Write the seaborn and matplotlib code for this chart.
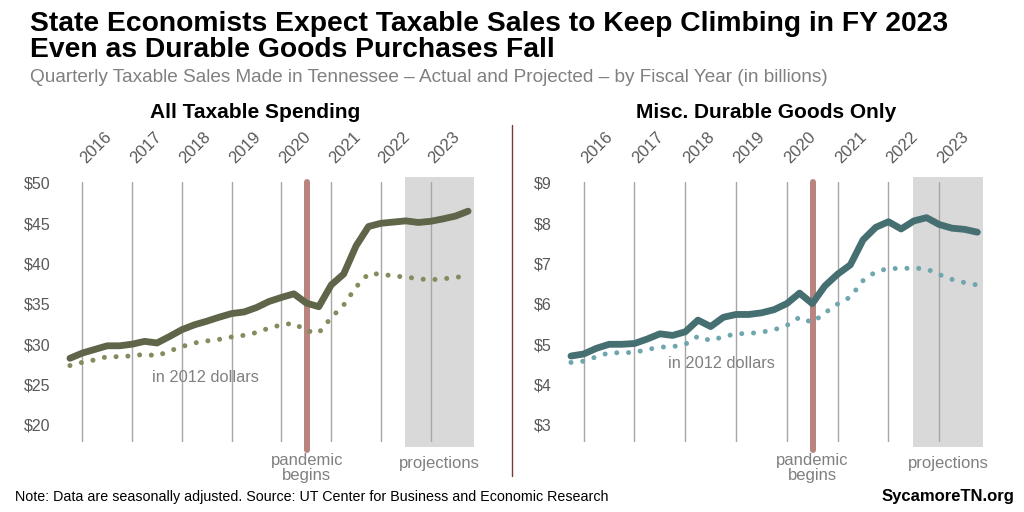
import numpy as np
import pandas as pd
import seaborn as sns
import matplotlib.pyplot as plt
from matplotlib.transforms import offset_copy

# quarterly values, Q4 FY2015 .. Q4 FY2023 (billions)
all_nominal = [28.25, 28.9, 29.35, 29.8, 29.8, 30.0, 30.35, 30.15, 30.95, 31.8, 32.4,
               32.85, 33.35, 33.8, 34.0, 34.55, 35.3, 35.8, 36.25, 35.1, 34.65, 37.35,
               38.7, 42.2, 44.6, 45.0, 45.15, 45.3, 45.1, 45.25, 45.55, 45.9, 46.5]
all_real = [27.35, 27.75, 28.05, 28.45, 28.45, 28.55, 28.75, 28.55, 29.15, 29.7, 30.15,
            30.4, 30.6, 30.9, 31.1, 31.45, 32.0, 32.4, 32.6, 31.65, 31.4, 33.3,
            34.85, 37.1, 38.75, 38.7, 38.45, 38.35, 38.1, 38.0, 38.1, 38.3, 38.45]
dur_nominal = [4.71, 4.76, 4.9, 5.0, 5.0, 5.02, 5.13, 5.26, 5.22, 5.31, 5.6,
               5.44, 5.67, 5.74, 5.74, 5.78, 5.86, 6.01, 6.27, 6.01, 6.45, 6.74,
               6.97, 7.59, 7.9, 8.04, 7.86, 8.06, 8.14, 7.97, 7.88, 7.85, 7.78]
dur_real = [4.55, 4.58, 4.69, 4.79, 4.79, 4.8, 4.87, 4.93, 4.94, 5.0, 5.2,
            5.09, 5.19, 5.26, 5.27, 5.3, 5.36, 5.47, 5.67, 5.54, 5.78, 6.0,
            6.17, 6.58, 6.8, 6.88, 6.88, 6.89, 6.87, 6.73, 6.61, 6.53, 6.47]
years = ["2016", "2017", "2018", "2019", "2020", "2021", "2022", "2023"]
year_start = [1, 5, 9, 13, 17, 21, 25, 29]   # first quarter of each fiscal year
pandemic_q = 19.03
proj_span = (26.95, 32.47)

sns.set_theme(style="white")
plt.rcParams["font.family"] = ["Liberation Sans", "DejaVu Sans"]

W, H = 1024, 512
fig = plt.figure(figsize=(10.24, 5.12), dpi=100)

def px_axes(x0, x1, y0, y1):
    return fig.add_axes([x0 / W, 1 - y1 / H, (x1 - x0) / W, (y1 - y0) / H])

GRAY = "#595959"
LGRAY = "#808080"

panels = [
    dict(box=(55, 483), xlim=(-1.2, 33.2), ylim=(17.9, 50.16), ticks=range(20, 51, 5),
         nom=all_nominal, real=all_real, c1="#5f6548", c2="#838c5d",
         title="All Taxable Spending", title_x=255, note_xy=(205, 377), pad=3),
    dict(box=(557, 995), xlim=(-1.1, 33.39), ylim=(2.585, 9.032), ticks=range(3, 10),
         nom=dur_nominal, real=dur_real, c1="#466f72", c2="#70a6ae",
         title="Misc. Durable Goods Only", title_x=766, note_xy=(721, 364), pad=4),
]

for p in panels:
    ax = px_axes(p["box"][0], p["box"][1], 181.7, 441.7)
    ax.set_xlim(*p["xlim"])
    ax.set_ylim(*p["ylim"])
    q = np.arange(len(p["nom"]))
    df = pd.DataFrame({"q": q, "nominal": p["nom"], "real": p["real"]})

    ax.axvspan(*proj_span, ymin=-0.02, ymax=1.018, color="#d9d9d9", lw=0,
               zorder=0, clip_on=False)
    for g in year_start:
        ax.axvline(g, color="#a6a6a6", lw=1, zorder=0.5)
    ax.axvline(pandemic_q, ymin=-0.033, ymax=1.0, color="#b8847e", lw=4.3,
               zorder=1, clip_on=False)

    sns.lineplot(data=df, x="q", y="real", ax=ax, color=p["c2"], linewidth=3.6,
                 linestyle=(0, (0.01, 2.35)), dash_capstyle="round", zorder=2)
    sns.lineplot(data=df, x="q", y="nominal", ax=ax, color=p["c1"], linewidth=4.9,
                 solid_capstyle="round", solid_joinstyle="round", zorder=3)

    ax.set_xticks([])
    ax.set_yticks(list(p["ticks"]))
    ax.set_yticklabels([f"${t}" for t in p["ticks"]], color=GRAY, fontsize=11.5)
    ax.tick_params(axis="y", length=0, pad=p["pad"])
    ax.set_xlabel("")
    ax.set_ylabel("")
    for s in ax.spines.values():
        s.set_visible(False)
    ax.patch.set_alpha(0)

    # fiscal year labels above the chart
    tr = offset_copy(ax.get_xaxis_transform(), fig=fig, x=3.5, y=17.5, units="dots")
    for g, yr in zip(year_start, years):
        ax.text(g, 1.0, yr, transform=tr, rotation=45, rotation_mode="anchor",
                ha="left", va="baseline", fontsize=12, color=GRAY)

    fig.text(p["title_x"] / W, 1 - 113 / H, p["title"],
             ha="center", va="center", fontsize=15, weight="bold", color="black")
    fig.text(p["note_xy"][0] / W, 1 - p["note_xy"][1] / H, "in 2012 dollars",
             ha="center", va="center", fontsize=11.8, color=LGRAY)

    # bottom annotations in data x
    bt = ax.get_xaxis_transform()
    ax.text(pandemic_q, -0.045, "pandemic\nbegins", transform=bt, ha="center",
            va="top", fontsize=12, color=LGRAY, linespacing=1.0)
    ax.text((proj_span[0] + proj_span[1]) / 2, -0.055, "projections", transform=bt,
            ha="center", va="top", fontsize=12, color=LGRAY)

# divider between panels
fig.add_artist(plt.Line2D([512.3 / W, 512.3 / W], [1 - 125 / H, 1 - 476 / H],
                          color="#7b3b35", lw=1))

fig.text(30 / W, 1 - 37 / H,
         "State Economists Expect Taxable Sales to Keep Climbing in FY 2023\n"
         "Even as Durable Goods Purchases Fall",
         ha="left", va="center", fontsize=20.3, weight="bold", color="black",
         linespacing=1.0)
fig.text(30 / W, 1 - 78 / H,
         "Quarterly Taxable Sales Made in Tennessee \u2013 Actual and Projected \u2013 by Fiscal Year (in billions)",
         ha="left", va="center", fontsize=13.7, color=LGRAY)
fig.text(15 / W, 1 - 497 / H,
         "Note: Data are seasonally adjusted. Source: UT Center for Business and Economic Research",
         ha="left", va="center", fontsize=10.3, color="black")
fig.text(1014 / W, 1 - 497 / H, "SycamoreTN.org", ha="right", va="center",
         fontsize=12, weight="bold", color="black")

fig.savefig("out.png", dpi=100)
